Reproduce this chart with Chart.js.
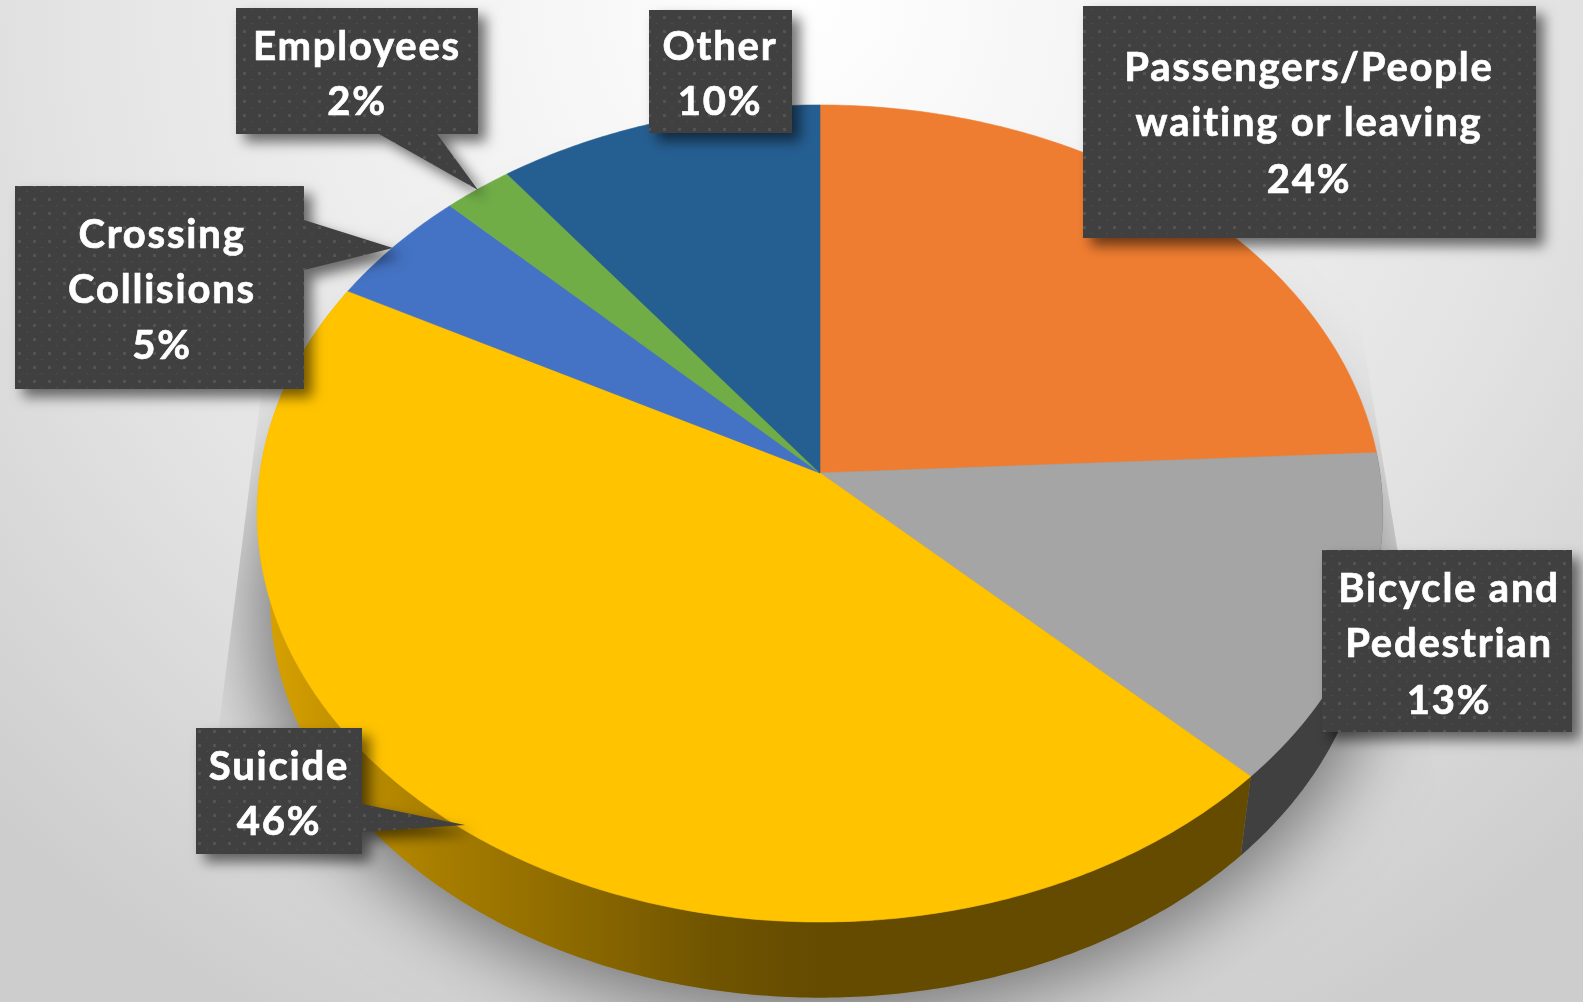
<!DOCTYPE html>
<html>
<head>
<meta charset="utf-8">
<title>Fatalities by category</title>
<script src="https://cdn.jsdelivr.net/npm/chart.js@4"></script>
<style>
  html, body { margin: 0; padding: 0; background: #ddd; overflow: hidden; }
  canvas { display: block; }
</style>
</head>
<body>
<canvas id="graficoPizza" width="1583" height="1002"></canvas>
<script>
// DADOS
const categorias = ['Passengers/People waiting or leaving', 'Bicycle and Pedestrian', 'Suicide', 'Crossing Collisions', 'Employees', 'Other'];
const linhasRotulo = [['Passengers/People', 'waiting or leaving'], ['Bicycle and', 'Pedestrian'], ['Suicide'], ['Crossing', 'Collisions'], ['Employees'], ['Other']];
// they round to the printed percentages
const valores = [24.2, 13.1, 45.5, 4.7, 2.2, 10.3];
const cores = ['#EF7D31', '#A5A5A5', '#FFC300', '#4472C4', '#70AD47', '#255E91'];
const coresLateral = [null, '#404040', 'amarelo', null, null, null];

// CAIXAS DOS ROTULOS [x, y, largura, altura, centro do texto, linhas de base, ponta]
const caixas = [
  [1083, 6, 453, 232, 1309, [81, 136, 193], null],
  [1322, 550, 250, 182, 1449, [602, 657, 714], null],
  [196, 728, 166, 126, 279, [780, 835], [[362, 804], [465, 825], [362, 832]]],
  [15, 186, 289, 203, 162, [248, 303, 359], [[304, 220], [393, 248], [304, 270]]],
  [236, 8, 242, 126, 357, [60, 115], [[379, 134], [478, 190], [437, 134]]],
  [649, 10, 143, 123, 720, [60, 115], null]
];

// GEOMETRIA DA PIZZA EM PERSPECTIVA
const topo = { cx: 820, cy: 473, esc: 1 };
const base = { cx: 820, cy: 559, esc: 0.977 };
const RX = 560, RY = 404.5, K = 0.0991;

function projeta(angulo, face) {
  const u = Math.cos(angulo), v = -Math.sin(angulo);
  const d = 1 + K * v;
  return [face.cx + face.esc * RX * u / d, face.cy - face.esc * RY * v / d];
}

function pontosArco(ini, fim, face) {
  const n = Math.max(2, Math.ceil((fim - ini) / 0.01));
  const pts = [];
  for (let i = 0; i <= n; i++) pts.push(projeta(ini + (fim - ini) * i / n, face));
  return pts;
}

function caminho(ctx, pts) {
  ctx.beginPath();
  pts.forEach((p, i) => i ? ctx.lineTo(p[0], p[1]) : ctx.moveTo(p[0], p[1]));
  ctx.closePath();
}

function padraoPontos(ctx) {
  const c = document.createElement('canvas');
  c.width = 15; c.height = 14;
  const p = c.getContext('2d');
  p.fillStyle = '#404040';
  p.fillRect(0, 0, 15, 14);
  p.fillStyle = '#535353';
  p.fillRect(3, 2, 3, 3);
  p.fillStyle = '#4c4c4c';
  p.fillRect(11, 9, 2, 1);
  return ctx.createPattern(c, 'repeat');
}

const fundo = {
  id: 'fundo',
  beforeDraw(chart) {
    const ctx = chart.ctx;
    const g = ctx.createRadialGradient(800, 0, 0, 800, 0, 1150);
    g.addColorStop(0, '#ffffff');
    g.addColorStop(0.3, '#f3f3f3');
    g.addColorStop(0.65, '#e3e3e3');
    g.addColorStop(1, '#cdcdcd');
    ctx.fillStyle = g;
    ctx.fillRect(0, 0, chart.width, chart.height);
  }
};

const pizza3d = {
  id: 'pizza3d',
  beforeDatasetDraw(chart, args) {
    const ctx = chart.ctx;
    const arcos = args.meta.data;
    const desloca = 3000;
    const tudo = pontosArco(0, Math.PI * 2, { cx: base.cx - desloca, cy: base.cy + 6, esc: base.esc * 1.03 });

    // sombra, so a parte borrada aparece
    ctx.save();
    ctx.beginPath();
    ctx.moveTo(311, 0); ctx.lineTo(1307, 0); ctx.lineTo(1472, 1002); ctx.lineTo(184, 1002);
    ctx.closePath();
    ctx.clip();
    ctx.shadowColor = 'rgba(0,0,0,0.46)';
    ctx.shadowBlur = 75;
    ctx.shadowOffsetX = desloca;
    ctx.fillStyle = '#000';
    caminho(ctx, tudo);
    ctx.fill();
    ctx.restore();

    // lateral
    const amarelo = ctx.createLinearGradient(270, 0, 820, 0);
    amarelo.addColorStop(0, '#d6a000');
    amarelo.addColorStop(0.3, '#a87e00');
    amarelo.addColorStop(0.55, '#8d6a00');
    amarelo.addColorStop(0.8, '#705400');
    amarelo.addColorStop(1, '#644b00');
    arcos.forEach((arco, i) => {
      if (!coresLateral[i]) return;
      const a = pontosArco(arco.startAngle, arco.endAngle, topo);
      const b = pontosArco(arco.startAngle, arco.endAngle, base).reverse();
      caminho(ctx, a.concat(b));
      ctx.fillStyle = coresLateral[i] === 'amarelo' ? amarelo : coresLateral[i];
      ctx.fill();
    });

    // face de cima
    arcos.forEach((arco, i) => {
      caminho(ctx, [[topo.cx, topo.cy]].concat(pontosArco(arco.startAngle, arco.endAngle, topo)));
      ctx.fillStyle = cores[i];
      ctx.strokeStyle = cores[i];
      ctx.lineWidth = 0.6;
      ctx.fill();
      ctx.stroke();
    });
    return false;
  }
};

const rotulos = {
  id: 'rotulos',
  afterDatasetsDraw(chart) {
    const ctx = chart.ctx;
    const padrao = padraoPontos(ctx);
    caixas.forEach((c, i) => {
      ctx.save();
      ctx.shadowColor = 'rgba(0,0,0,0.55)';
      ctx.shadowBlur = 13;
      ctx.shadowOffsetX = 8;
      ctx.shadowOffsetY = 8;
      ctx.fillStyle = padrao;
      ctx.beginPath();
      ctx.rect(c[0], c[1], c[2], c[3]);
      if (c[6]) {
        ctx.moveTo(c[6][0][0], c[6][0][1]);
        ctx.lineTo(c[6][1][0], c[6][1][1]);
        ctx.lineTo(c[6][2][0], c[6][2][1]);
        ctx.closePath();
      }
      ctx.fill('nonzero');
      ctx.restore();

      const textos = linhasRotulo[i].concat([Math.round(valores[i]) + '%']);
      ctx.fillStyle = '#ffffff';
      ctx.strokeStyle = '#ffffff';
      ctx.lineWidth = 0.7;
      ctx.font = 'bold 40px Lato';
      ctx.letterSpacing = '1.8px';
      ctx.textAlign = 'center';
      ctx.textBaseline = 'alphabetic';
      textos.forEach((t, j) => {
        ctx.fillText(t, c[4], c[5][j]);
        ctx.strokeText(t, c[4], c[5][j]);
      });
    });
  }
};

// GRAFICO
const graficoPizza = document.getElementById('graficoPizza');
new Chart(graficoPizza, {
  type: 'pie',
  data: {
    labels: categorias,
    datasets: [{ data: valores, backgroundColor: cores, borderWidth: 0 }]
  },
  options: {
    responsive: false,
    animation: false,
    events: [],
    plugins: { legend: { display: false }, tooltip: { enabled: false } }
  },
  plugins: [fundo, pizza3d, rotulos]
});
</script>
</body>
</html>
